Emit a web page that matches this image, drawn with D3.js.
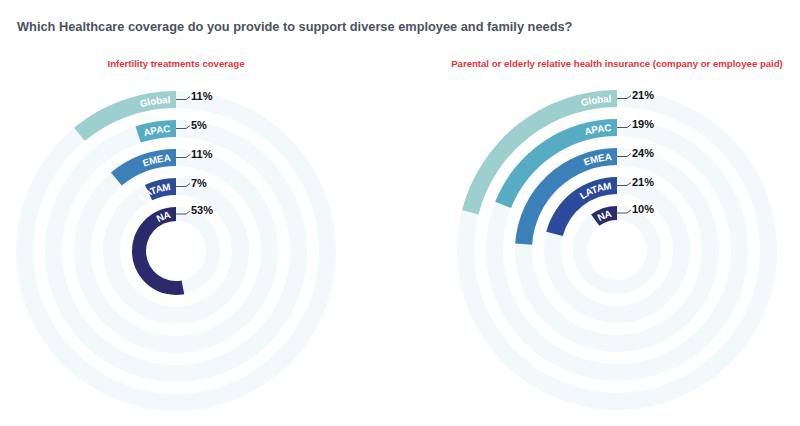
<!DOCTYPE html>
<html>
<head>
<meta charset="utf-8">
<script src="https://cdn.jsdelivr.net/npm/d3@7"></script>
<style>
  body { margin: 0; background: #fff; }
  text { font-family: "Liberation Sans", Arial, sans-serif; }
</style>
</head>
<body>
<div id="container"></div>
<script>
// data
const title = "Which Healthcare coverage do you provide to support diverse employee and family needs?";
const regions = ["Global", "APAC", "EMEA", "LATAM", "NA"];
const infertility = [11, 5, 11, 7, 53];
const parental = [21, 19, 24, 21, 10];
const chartNames = [
    "Infertility treatments coverage",
    "Parental or elderly relative health insurance (company or employee paid)"
];
const regionColors = ["#9ecfcf", "#56adc3", "#3b80b9", "#2c4a9b", "#2a2a6c"];

const width = 800, height = 426;

const svg = d3.select("#container").append("svg")
    .attr("width", width)
    .attr("height", height);

svg.append("text")
    .attr("x", 17)
    .attr("y", 31)
    .attr("font-size", 12.8)
    .attr("font-weight", "bold")
    .attr("fill", "#4b5360")
    .text(title);

// angle: 0..100% counter-clockwise from 12 o'clock
const angle = d3.scaleLinear().domain([0, 100]).range([0, -2 * Math.PI]);

// outer radius of each ring
const radius = d3.scalePoint().domain(regions).range([160, 44]);
const thickness = 17;
const innerR = d => Math.max(radius(d) - thickness, 30);

const color = d3.scaleOrdinal().domain(regions).range(regionColors);

const arc = d3.arc()
    .innerRadius(d => innerR(d.region))
    .outerRadius(d => radius(d.region))
    .startAngle(0)
    .endAngle(d => angle(d.value));

function drawChart(cx, cy, name, values, idx) {
    const rows = regions.map((r, i) => ({region: r, value: values[i]}));

    svg.append("text")
        .attr("x", cx)
        .attr("y", 67)
        .attr("text-anchor", "middle")
        .attr("font-size", 9.6)
        .attr("font-weight", "bold")
        .attr("fill", "#e2353a")
        .text(name);

    const g = svg.append("g").attr("transform", `translate(${cx},${cy})`);

    // light background tracks
    g.selectAll("path.track")
        .data(rows)
        .enter().append("path")
        .attr("class", "track")
        .attr("fill", "#f3f9fa")
        .attr("d", d => d3.arc()
            .innerRadius(innerR(d.region))
            .outerRadius(radius(d.region))
            .startAngle(0)
            .endAngle(2 * Math.PI)());

    g.selectAll("path.bar")
        .data(rows)
        .enter().append("path")
        .attr("class", "bar")
        .attr("fill", d => color(d.region))
        .attr("d", arc);

    // text paths for the region names (clockwise half circle ending at the top)
    rows.forEach((d, i) => {
        const r = (radius(d.region) + innerR(d.region)) / 2;
        g.append("path")
            .attr("id", `lab${idx}_${i}`)
            .attr("fill", "none")
            .attr("d", `M0,${r} A${r},${r} 0 0 1 0,${-r}`);
        g.append("text")
            .attr("font-size", 9.8)
            .attr("font-weight", "bold")
            .attr("fill", "#fff")
            .attr("dy", "0.35em")
            .append("textPath")
            .attr("href", `#lab${idx}_${i}`)
            .attr("startOffset", Math.PI * r - 6)
            .attr("text-anchor", "end")
            .text(d.region);
    });

    // leader lines and value labels
    const lab = g.selectAll("g.val")
        .data(rows)
        .enter().append("g")
        .attr("class", "val")
        .attr("transform", d => `translate(0,${-(radius(d.region) + innerR(d.region)) / 2})`);

    lab.append("path")
        .attr("fill", "none")
        .attr("stroke", "#555")
        .attr("stroke-width", 1)
        .attr("d", "M0,0H10L14,-3");

    lab.append("text")
        .attr("x", 15)
        .attr("y", 0)
        .attr("font-size", 11)
        .attr("font-weight", "bold")
        .attr("fill", "#111")
        .text(d => d.value + "%");
}

drawChart(176, 251, chartNames[0], infertility, 0);
drawChart(617, 250, chartNames[1], parental, 1);
</script>
</body>
</html>
